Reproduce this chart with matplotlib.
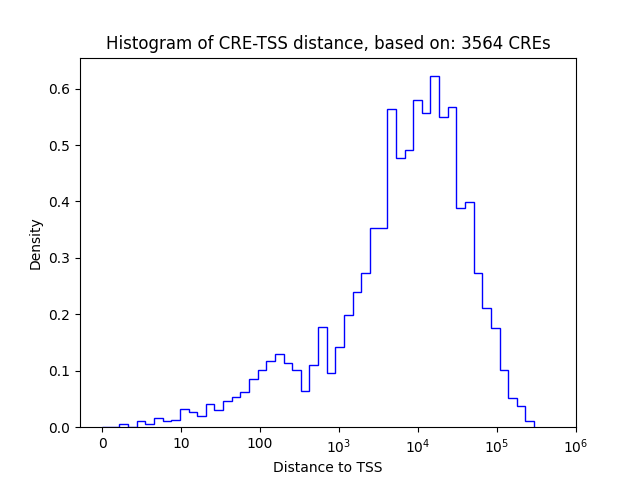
import numpy as np
import matplotlib
matplotlib.use("Agg")
import matplotlib.pyplot as plt

density = [0, 0, 0.0065, 0, 0.011, 0.0065, 0.017, 0.011, 0.0136, 0.033,
           0.0265, 0.019, 0.042, 0.031, 0.047, 0.054, 0.062, 0.086, 0.102, 0.118,
           0.130, 0.114, 0.102, 0.064, 0.111, 0.178, 0.096, 0.142, 0.198, 0.239,
           0.274, 0.353, 0.353, 0.564, 0.477, 0.491, 0.580, 0.557, 0.622, 0.550,
           0.567, 0.389, 0.399, 0.273, 0.212, 0.175, 0.101, 0.051, 0.038, 0.011]
u_max = 5.47  # log-scale position of last bin edge
tick_labels = ['0', '10', '100', '$10^3$', '$10^4$', '$10^5$', '$10^6$']

edges = np.linspace(0, u_max, len(density) + 1)
fig, ax = plt.subplots(figsize=(6.4, 4.8), dpi=100)
ax.stairs(density, edges, color='blue', linewidth=1)
ax.set_xticks(range(len(tick_labels)))
ax.set_xticklabels(tick_labels)
ax.set_xlim(-0.28, 6.0)
ax.set_ylim(0, 0.655)
ax.set_xlabel('Distance to TSS')
ax.set_ylabel('Density')
ax.set_title('Histogram of CRE-TSS distance, based on: 3564 CREs')
fig.savefig('out.png')
